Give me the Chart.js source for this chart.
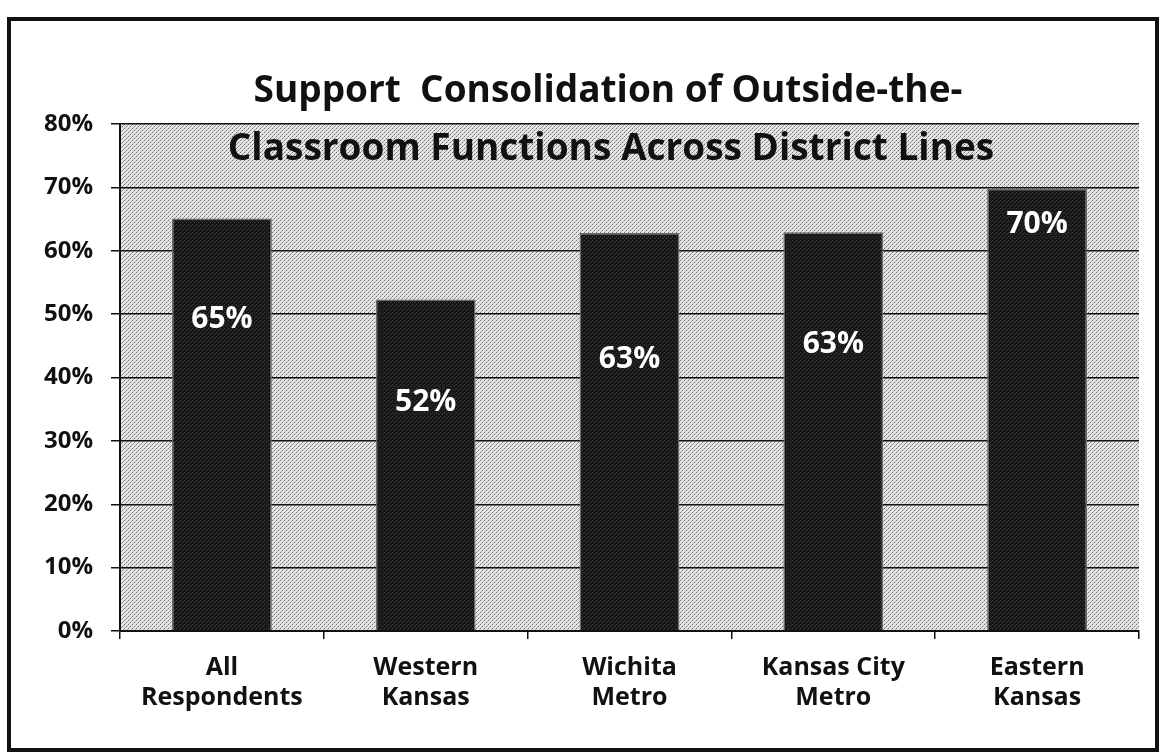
<!DOCTYPE html>
<html>
<head>
<meta charset="utf-8">
<script src="https://cdn.jsdelivr.net/npm/chart.js@4.4.1/dist/chart.umd.min.js"></script>
<style>
  html, body { margin: 0; padding: 0; background: #fff; }
  .frame {
    position: absolute; left: 7px; top: 17px;
    width: 1144px; height: 727px;
    border: 4px solid #111;
  }
  .wrap { position: absolute; left: 0; top: 0; width: 1161px; height: 754px; }
</style>
</head>
<body>
<div class="frame"></div>
<div class="wrap"><canvas id="chart" width="1161" height="754"></canvas></div>
<script>
// Chart data
const categories = [
  ["All", "Respondents"],
  ["Western", "Kansas"],
  ["Wichita", "Metro"],
  ["Kansas City", "Metro"],
  ["Eastern", "Kansas"]
];
const supportValues = [65.1, 52.3, 62.8, 62.9, 69.8];
const titleLines = ["Support  Consolidation of Outside-the-", "Classroom Functions Across District Lines"];

// where the value labels sit inside each bar (in axis units)
const labelAt = [49.2, 36, 42.9, 45.2, 64.1];

const canvas = document.getElementById("chart");
const ctx = canvas.getContext("2d");

// Small dithered pattern to mimic the printed texture
function makePattern(base, dots) {
  const c = document.createElement("canvas");
  c.width = 4; c.height = 4;
  const g = c.getContext("2d");
  g.fillStyle = base;
  g.fillRect(0, 0, 4, 4);
  dots.forEach(([x, y, col]) => {
    g.fillStyle = col;
    g.fillRect(x, y, 1, 1);
  });
  return ctx.createPattern(c, "repeat");
}

const plotFill = makePattern("#e6e6e6", [[0, 0, "#707070"], [2, 2, "#707070"], [1, 3, "#a8a8a8"], [3, 1, "#a8a8a8"]]);
const barFill = makePattern("#171717", [[0, 0, "#3e3e3e"], [2, 2, "#3e3e3e"], [3, 1, "#2c2c2c"]]);

// Plot area background + title + value labels
const decorations = {
  id: "decorations",
  beforeDraw(chart) {
    const a = chart.chartArea;
    const c = chart.ctx;
    c.save();
    c.fillStyle = plotFill;
    c.fillRect(a.left, a.top, a.right - a.left, a.bottom - a.top);
    c.restore();
  },
  afterDraw(chart) {
    const c = chart.ctx;
    const meta = chart.getDatasetMeta(0);
    const yScale = chart.scales.y;
    c.save();
    c.fillStyle = "#ffffff";
    c.font = "bold 30px 'Open Sans'";
    c.textAlign = "center";
    c.textBaseline = "middle";
    meta.data.forEach((bar, i) => {
      const txt = Math.round(supportValues[i]) + "%";
      c.fillText(txt, bar.x, yScale.getPixelForValue(labelAt[i]));
    });

    c.fillStyle = "#111111";
    c.font = "bold 37px 'Open Sans'";
    c.textBaseline = "alphabetic";
    c.fillText(titleLines[0], 608, 102);
    c.fillText(titleLines[1], 611, 160);
    c.restore();
  }
};

new Chart(canvas, {
  type: "bar",
  data: {
    labels: categories,
    datasets: [{
      data: supportValues,
      backgroundColor: barFill,
      borderColor: "#6a6a6a",
      borderWidth: 1.5,
      categoryPercentage: 1,
      barPercentage: 0.49
    }]
  },
  options: {
    responsive: false,
    animation: false,
    layout: { padding: { top: 124, right: 22, left: 0, bottom: 0 } },
    plugins: {
      legend: { display: false },
      title: { display: false },
      tooltip: { enabled: false }
    },
    scales: {
      x: {
        afterFit: s => { s.height = 123; },
        grid: {
          drawOnChartArea: false,
          drawTicks: true,
          tickLength: 8,
          color: "#111",
          lineWidth: 1.5
        },
        border: { display: true, color: "#111", width: 2 },
        ticks: {
          color: "#111",
          padding: 14,
          font: { family: "'Open Sans'", weight: "bold", size: 25 }
        }
      },
      y: {
        min: 0,
        max: 80,
        afterFit: s => { s.width = 120; },
        grid: {
          color: "#111",
          lineWidth: 1.5,
          tickLength: 9
        },
        border: { display: true, color: "#111", width: 2 },
        ticks: {
          stepSize: 10,
          color: "#111",
          padding: 18,
          font: { family: "'Open Sans'", weight: "bold", size: 24 },
          callback: v => v + "%"
        }
      }
    }
  },
  plugins: [decorations]
});
</script>
</body>
</html>
